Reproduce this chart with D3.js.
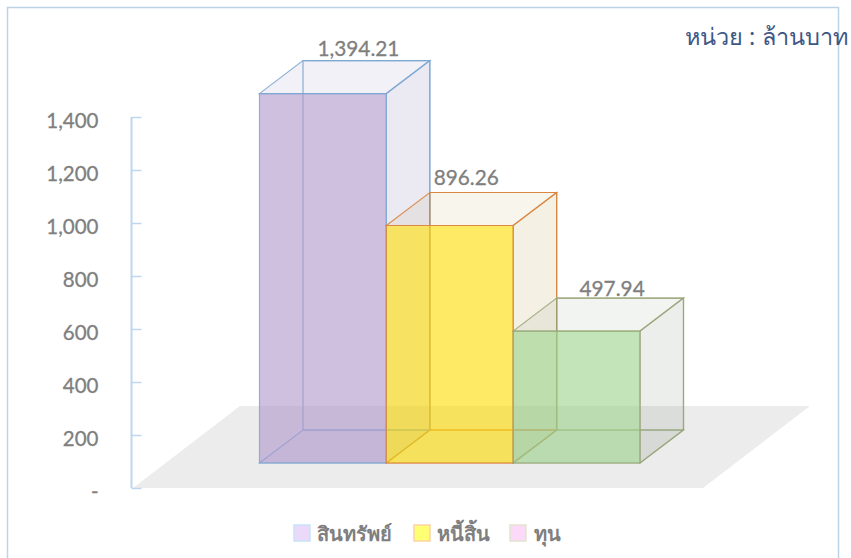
<!DOCTYPE html>
<html><head><meta charset="utf-8">
<script src="https://cdnjs.cloudflare.com/ajax/libs/d3/7.8.5/d3.min.js"></script>
<style>html,body{margin:0;padding:0;background:#fff}svg{display:block}</style>
</head><body><svg id="c" width="851" height="558"></svg>
<script>
// Data
const categories = ["สินทรัพย์","หนี้สิ้น","ทุน"];
const values = [1394.21, 896.26, 497.94];
const valueLabels = ["1,394.21","896.26","497.94"];
const yTicks = [0,200,400,600,800,1000,1200,1400];
const unitLabel = "หน่วย : ล้านบาท";
const legendLabels = ["สินทรัพย์","หนี้สิ้น","ทุน"];
// Styles
const frontFill = ["#af96cb","#ffdc00","#9bd28a"];
const edgeColor = ["#7ba8d2","#d98540","#9aa67a"];
const sideFill = ["#5a509a","#a88515","#5b775b"];
const legendFill = ["#ead9f9","#ffff73","#fbd9f9"];
const legendEdge = ["#c9e2f8","#fdd3a6","#e4e4cf"];
const labelNudgeX = [-8,-27,-8];
const labelNudgeY = [-5,-7,-2];
const legendX = [294,414,510];
const legendTextX = [317,437,534];

const svg = d3.select("#c");
const font = "Lato, 'Noto Sans', sans-serif";
const y = d3.scaleLinear().domain([0,1400]).range([488,117]);
const x = d3.scaleBand().domain(categories).range([259.5,640]).padding(0);
const baseY = 463, dx = 43.5, dy = -33;
const pts = a => a.map(p=>p.join(",")).join(" ");

// frame
svg.append("path").attr("d","M7.5,558V7.5H838.5V558").attr("fill","none").attr("stroke","#bcd4e8").attr("stroke-width",1.5);

// floor
svg.append("polygon").attr("points",pts([[133,488],[703,488],[810,406],[240,406]])).attr("fill","#ececec");

// axis
const axis = d3.axisLeft(y).tickValues(yTicks).tickSize(-10).tickPadding(33)
  .tickFormat(d=> d===0 ? "-" : d3.format(",")(d));
const gA = svg.append("g").attr("transform","translate(131.5,0)").call(axis);
gA.select(".domain").attr("stroke","#bdd7ee").attr("stroke-width",2).attr("d","M0,117V488");
gA.selectAll(".tick line").attr("stroke","#bdd7ee").attr("stroke-width",1.5);
gA.selectAll(".tick text").attr("font-family",font).attr("font-size",20.5).attr("fill","#7f7f7f").attr("dy","0.5em")
  .attr("stroke","#7f7f7f").attr("stroke-width",0.3);

// bars
const bars = svg.append("g").selectAll("g").data(categories).join("g");
bars.each(function(c,i){
  const g = d3.select(this);
  const l = x(c), r = l + x.bandwidth();
  const t = baseY - (y(0)-y(values[i]));
  const stroke = edgeColor[i];
  const face = (p,fill,op)=>g.append("polygon").attr("points",pts(p)).attr("fill",fill).attr("fill-opacity",op).attr("stroke",stroke).attr("stroke-width",1.2).attr("stroke-opacity",0.85);
  // back & bottom
  face([[l+dx,t+dy],[r+dx,t+dy],[r+dx,baseY+dy],[l+dx,baseY+dy]],"#ffffff",0);
  face([[l,baseY],[r,baseY],[r+dx,baseY+dy],[l+dx,baseY+dy]],sideFill[i],0.03);
  // side & top
  face([[r,t],[r+dx,t+dy],[r+dx,baseY+dy],[r,baseY]],sideFill[i],0.12);
  face([[l,t],[r,t],[r+dx,t+dy],[l+dx,t+dy]],sideFill[i],0.08);
  // front
  face([[l,t],[r,t],[r,baseY],[l,baseY]],frontFill[i],0.6);
  // value label
  svg.append("text").attr("x",(l+r)/2+dx+labelNudgeX[i]).attr("y",t+dy+labelNudgeY[i])
    .attr("text-anchor","middle").attr("font-family",font).attr("font-size",20.8)
    .attr("fill","#7f7f7f").attr("stroke","#7f7f7f").attr("stroke-width",0.3).text(valueLabels[i]);
});

// unit label
svg.append("text").attr("x",685).attr("y",45).attr("font-family","'Noto Sans', Roboto, sans-serif").attr("font-size",23.5).attr("fill","#3d5886").text(unitLabel);

// legend
legendLabels.forEach((s,i)=>{
  svg.append("rect").attr("x",legendX[i]).attr("y",525).attr("width",16).attr("height",16).attr("fill",legendFill[i]).attr("stroke",legendEdge[i]).attr("stroke-width",1.5);
  svg.append("text").attr("x",legendTextX[i]).attr("y",541).attr("font-family","'Noto Sans', sans-serif").attr("font-size",20).attr("font-weight",700).attr("fill","#7f7f7f").text(s);
});
</script></body></html>
